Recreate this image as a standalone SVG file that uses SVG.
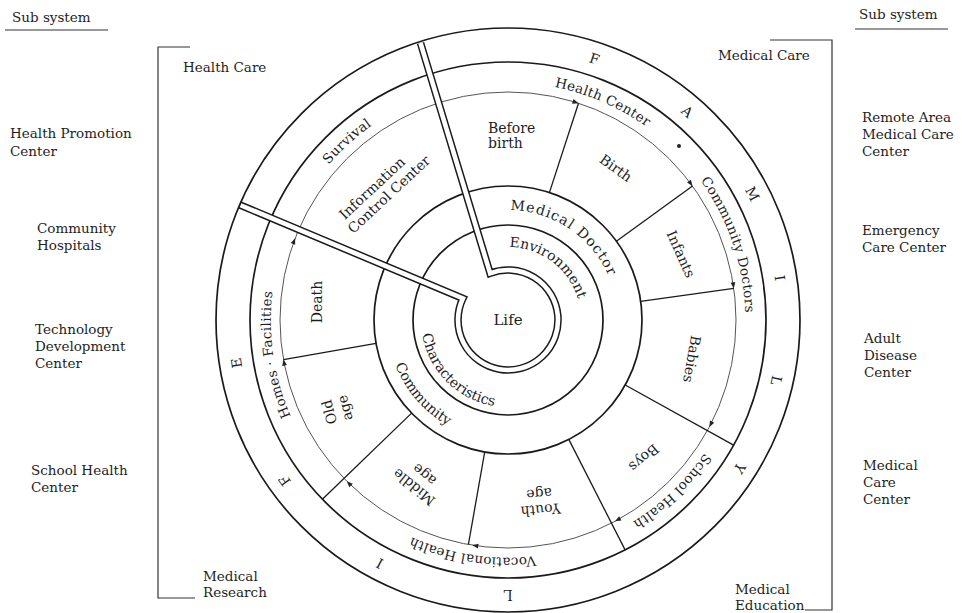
<svg xmlns="http://www.w3.org/2000/svg" width="962" height="613" viewBox="0 0 962 613">
  <style>
    text { font-family: "DejaVu Serif", "Liberation Serif", serif; fill: #1e1e1e; }
    .side { font-size: 13.5px; }
    .band { font-size: 13.5px; letter-spacing: 0.3px; }
    .seg { font-size: 14px; }
    .cap { font-size: 14px; }
    .ring { fill: none; stroke: #1a1a1a; stroke-width: 1.7; }
    .flow { fill: none; stroke: #555; stroke-width: 1; }
    .div { stroke: #1a1a1a; stroke-width: 1.3; fill: none; }
    .rule { stroke: #333; stroke-width: 1.2; fill: none; }
  </style>
  <defs>
    <!-- clockwise text circles, starting where the left channel cuts them -->
    <path id="cw237" d="M289.84,227.4 A237,237 0 1 1 726.16,412.6 A237,237 0 1 1 289.84,227.4"/>
    <path id="cw109" d="M407.67,277.41 A109,109 0 1 1 608.33,362.59 A109,109 0 1 1 407.67,277.41"/>
    <path id="cw73" d="M440.8,291.48 A73,73 0 1 1 575.2,348.52 A73,73 0 1 1 440.8,291.48"/>
    <!-- counter-clockwise text circles, starting at the top -->
    <path id="ccw87" d="M508,233 A87,87 0 1 0 508,407 A87,87 0 1 0 508,233"/>
    <path id="ccw121" d="M508,198.5 A121.5,121.5 0 1 0 508,441.5 A121.5,121.5 0 1 0 508,198.5"/>
    <path id="ah" d="M0,0 L-6,-2.4 L-6,2.4 Z" fill="#222"/>
  </defs>

  <rect width="962" height="613" fill="#ffffff"/>

  <!-- sub-system columns -->
  <g id="left-column">
    <text class="side" x="12" y="22">Sub system</text>
    <line class="rule" x1="5" y1="30" x2="108" y2="30"/>
    <polyline class="rule" points="190,47 158,47 158,598 195,598"/>
    <text class="side" x="183" y="72">Health Care</text>
    <text class="side" x="203" y="581">Medical<tspan x="203" dy="16">Research</tspan></text>
  </g>
  <g id="health-promotion"><text class="side" x="10" y="138">Health Promotion<tspan x="10" dy="18">Center</tspan></text></g>
  <g id="community-hospitals"><text class="side" x="37" y="233">Community<tspan x="37" dy="17">Hospitals</tspan></text></g>
  <g id="technology-development"><text class="side" x="35" y="334">Technology<tspan x="35" dy="17">Development</tspan><tspan x="35" dy="17">Center</tspan></text></g>
  <g id="school-health-center"><text class="side" x="31" y="475">School Health<tspan x="31" dy="17">Center</tspan></text></g>

  <g id="right-column">
    <text class="side" x="859" y="19">Sub system</text>
    <line class="rule" x1="855" y1="29" x2="948" y2="29"/>
    <polyline class="rule" points="770,40 832,40 832,610 805,610"/>
    <text class="side" x="718" y="60">Medical Care</text>
    <text class="side" x="735" y="594">Medical<tspan x="735" dy="16">Education</tspan></text>
  </g>
  <g id="remote-area"><text class="side" x="862" y="122">Remote Area<tspan x="862" dy="17">Medical Care</tspan><tspan x="862" dy="17">Center</tspan></text></g>
  <g id="emergency-care"><text class="side" x="862" y="235">Emergency<tspan x="862" dy="17">Care Center</tspan></text></g>
  <g id="adult-disease"><text class="side" x="864" y="343">Adult<tspan x="864" dy="17">Disease</tspan><tspan x="864" dy="17">Center</tspan></text></g>
  <g id="medical-care-center"><text class="side" x="863" y="470">Medical<tspan x="863" dy="17">Care</tspan><tspan x="863" dy="17">Center</tspan></text></g>

  <!-- concentric rings -->
  <g id="rings">
    <circle class="ring" cx="508" cy="320" r="95"/>
    <circle class="ring" cx="508" cy="320" r="134"/>
    <circle class="flow" cx="508" cy="320" r="228"/>
    <circle class="ring" cx="508" cy="320" r="258"/>
  </g>

  <!-- stage dividers -->
  <g id="connectors">
    <line class="div" x1="549.4" y1="192.6" x2="578.5" y2="103.2"/>
    <line class="div" x1="616.4" y1="241.2" x2="692.5" y2="186.0"/>
    <line class="div" x1="640.7" y1="301.3" x2="733.8" y2="288.3"/>
    <line class="div" x1="625.2" y1="385.0" x2="733.6" y2="445.1"/>
    <line class="div" x1="568.8" y1="439.4" x2="625.1" y2="549.9"/>
    <line class="div" x1="484.7" y1="452.0" x2="468.4" y2="544.5"/>
    <line class="div" x1="411.6" y1="413.1" x2="322.4" y2="499.2"/>
    <line class="div" x1="376.0" y1="343.3" x2="283.5" y2="359.6"/>
    <!-- flow arrows on the life-cycle circle -->
    <use href="#ah" transform="translate(578.5,103.2) rotate(18)"/>
    <use href="#ah" transform="translate(692.5,186.0) rotate(54)"/>
    <use href="#ah" transform="translate(733.8,288.3) rotate(82)"/>
    <use href="#ah" transform="translate(709.3,427.0) rotate(118)"/>
    <use href="#ah" transform="translate(615.0,521.3) rotate(152)"/>
    <use href="#ah" transform="translate(472.3,545.2) rotate(189)"/>
    <use href="#ah" transform="translate(346.8,481.2) rotate(225)"/>
    <use href="#ah" transform="translate(283.5,359.6) rotate(260)"/>
    <use href="#ah" transform="translate(295.1,238.3) rotate(291)"/>
    <circle cx="679" cy="146" r="2" fill="#222"/>
  </g>

  <!-- double-walled channel: left entry, ring around Life, top exit -->
  <g id="channel">
    <path d="M240,205 L462.9,298.4 A50,50 0 1 0 490.1,273.3 L420.5,43" fill="none" stroke="#1a1a1a" stroke-width="7.6" stroke-linejoin="miter"/>
    <path d="M240,205 L462.9,298.4 A50,50 0 1 0 490.1,273.3 L420.5,43" fill="none" stroke="#ffffff" stroke-width="4.6" stroke-linejoin="miter"/>
  </g>
  <circle class="ring" cx="508" cy="320" r="292"/>

  <!-- outer band letters -->
  <g id="family">
    <text class="cap" text-anchor="middle" y="5" transform="translate(594.4,58.9) rotate(18.3)">F</text>
    <text class="cap" text-anchor="middle" y="5" transform="translate(687.3,111.5) rotate(40.7)">A</text>
    <text class="cap" text-anchor="middle" y="5" transform="translate(752.4,193.9) rotate(62.7)">M</text>
    <text class="cap" text-anchor="middle" y="5" transform="translate(779.8,277.9) rotate(81.2)">I</text>
    <text class="cap" text-anchor="middle" y="5" transform="translate(776.3,380.4) rotate(102.7)">L</text>
    <text class="cap" text-anchor="middle" y="5" transform="translate(739.7,468.2) rotate(122.6)">Y</text>
  </g>
  <g id="life-letters">
    <text class="cap" text-anchor="middle" y="5" transform="translate(508,595) rotate(180)">L</text>
    <text class="cap" text-anchor="middle" y="5" transform="translate(379.7,563.3) rotate(207.8)">I</text>
    <text class="cap" text-anchor="middle" y="5" transform="translate(284.7,480.5) rotate(234.3)">F</text>
    <text class="cap" text-anchor="middle" y="5" transform="translate(236.4,363) rotate(261)">E</text>
  </g>

  <!-- service band -->
  <g id="service-band">
    <text class="band"><textPath href="#cw237" startOffset="103.4" text-anchor="middle">Survival</textPath></text>
    <text class="band"><textPath href="#cw237" startOffset="374.8" text-anchor="middle">Health Center</textPath></text>
    <text class="band"><textPath href="#cw237" startOffset="572.5" text-anchor="middle">Community Doctors</textPath></text>
    <text class="band"><textPath href="#cw237" startOffset="841.8" text-anchor="middle">School Health</textPath></text>
    <text class="band"><textPath href="#cw237" startOffset="1058.9" text-anchor="middle">Vocational Health</textPath></text>
    <text class="band"><textPath href="#cw237" startOffset="1360.9" text-anchor="middle">Homes · Facilities</textPath></text>
  </g>

  <!-- life stages -->
  <g id="before-birth"><text class="seg" x="488" y="133">Before<tspan x="488" dy="15">birth</tspan></text></g>
  <g id="birth"><text class="seg" text-anchor="middle" y="5" transform="translate(616,168) rotate(36)">Birth</text></g>
  <g id="infants"><text class="seg" text-anchor="middle" y="5" transform="translate(681,254) rotate(66)">Infants</text></g>
  <g id="babies"><text class="seg" text-anchor="middle" y="5" transform="translate(692,359) rotate(100)">Babies</text></g>
  <g id="boys"><text class="seg" text-anchor="middle" y="5" transform="translate(644,458) rotate(140)">Boys</text></g>
  <g id="youth-age"><text class="seg" text-anchor="middle" transform="translate(540,502) rotate(175)"><tspan x="0" y="-3">Youth</tspan><tspan x="0" y="13">age</tspan></text></g>
  <g id="middle-age"><text class="seg" text-anchor="middle" transform="translate(419,481) rotate(219)"><tspan x="0" y="-3">Middle</tspan><tspan x="0" y="13">age</tspan></text></g>
  <g id="old-age"><text class="seg" text-anchor="middle" transform="translate(337,410) rotate(255)"><tspan x="0" y="-3">Old</tspan><tspan x="0" y="13">age</tspan></text></g>
  <g id="death"><text class="seg" text-anchor="middle" y="5" transform="translate(317,302) rotate(270)">Death</text></g>
  <g id="information-center"><text class="seg" text-anchor="middle" transform="translate(372,188) rotate(-43)"><tspan x="0" y="5">Information</tspan><tspan x="8" y="21">Control Center</tspan></text></g>

  <!-- inner rings -->
  <g id="medical-doctor"><text class="seg" letter-spacing="1.2"><textPath href="#cw109" startOffset="193.1" text-anchor="middle">Medical Doctor</textPath></text></g>
  <g id="community"><text class="seg" font-size="13.5"><textPath href="#ccw121" startOffset="277.8" text-anchor="middle">Community</textPath></text></g>
  <g id="environment"><text class="seg"><textPath href="#cw73" startOffset="132.5" text-anchor="middle">Environment</textPath></text></g>
  <g id="characteristics"><text class="seg"><textPath href="#ccw87" startOffset="205" text-anchor="middle">Characteristics</textPath></text></g>
  <g id="life"><text x="508" y="325" text-anchor="middle" font-size="15">Life</text></g>
</svg>
